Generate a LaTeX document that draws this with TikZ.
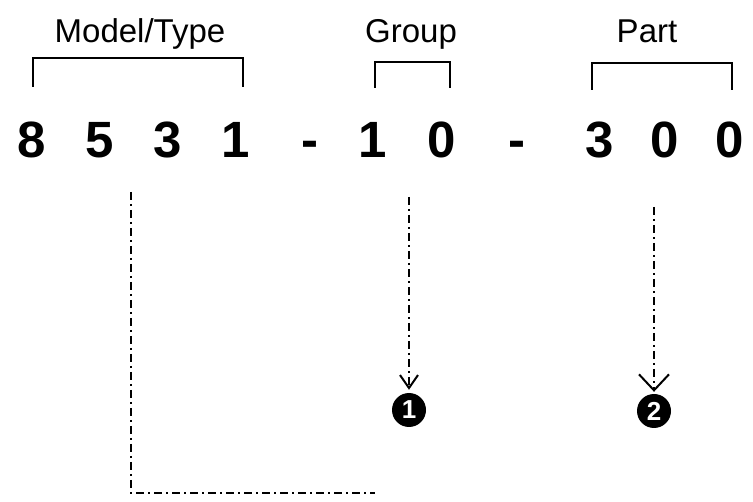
\documentclass[tikz,border=0pt]{standalone}
\usepackage{fontspec}
\setmainfont{Liberation Sans}
\usetikzlibrary{positioning,arrows.meta}

\begin{document}
\begin{tikzpicture}[x=1pt,y=-1pt,
  label/.style={font=\fontsize{33}{33}\selectfont,inner sep=0pt,anchor=base},
  digit/.style={font=\fontsize{51}{51}\selectfont\bfseries,inner sep=0pt,anchor=base},
  brace/.style={line width=2pt},
  leader/.style={line width=2pt,dash pattern=on 8pt off 4pt on 2pt off 4pt},
  callout/.style={circle,fill=black,text=white,inner sep=0pt,minimum size=34pt,font=\fontsize{26}{26}\selectfont\bfseries}]
\useasboundingbox (0,0) rectangle (753,502);
\node[label] (model) at (140,43) {Model/Type};
\node[label] (group) at (411,43) {Group};
\node[label] (part) at (647,43) {Part};
\draw[brace] (33,87) |- (243,58) -- (243,87);
\draw[brace] (375,88) |- (450,62) -- (450,88);
\draw[brace] (592,90) |- (732,63) -- (732,90);
\foreach \n/\x/\t in {d1/32/8,d2/100/5,d3/168/3,d4/236/1,h1/310/-,d5/373/1,d6/442/0,h2/517/-,d7/600/3,d8/665/0,d9/730/0}{\node[digit] (\n) at (\x,158) {\t};}
\node[callout] (c1) at (409,410) {1};
\node[callout] (c2) at (654,411) {2};
\coordinate (mtop) at (131,192);
\coordinate (mend) at (375,493);
\coordinate (gtop) at (409,197);
\coordinate (ptop) at (654,207);
\draw[leader] (mtop) |- (mend);
\draw[leader,-{Straight Barb[length=13pt,width=18pt]},shorten >=3pt] (gtop) -- (c1);
\draw[leader,-{Straight Barb[length=16pt,width=30pt]},shorten >=2pt] (ptop) -- (c2);
\end{tikzpicture}
\end{document}
